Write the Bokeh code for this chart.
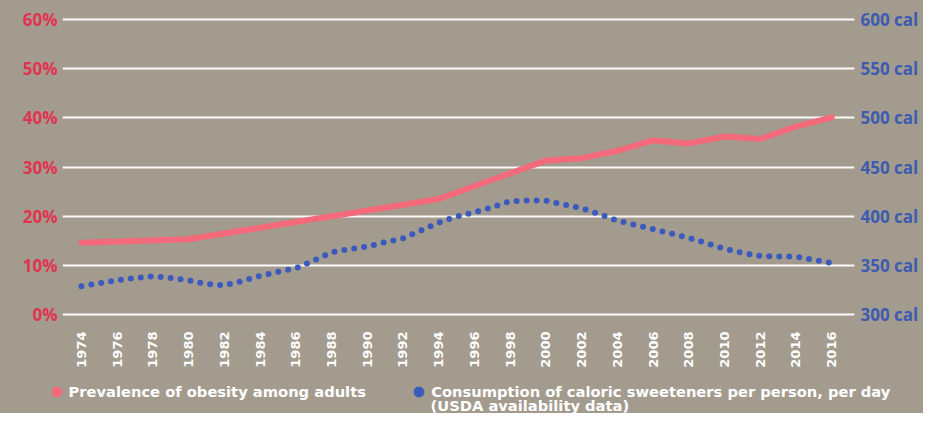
from math import pi
from bokeh.plotting import figure
from bokeh.layouts import column
from bokeh.models import (Range1d, LinearAxis, FixedTicker, PrintfTickFormatter,
                          Legend, LegendItem, Label)
from bokeh.embed import file_html
from bokeh.resources import INLINE

# ---- data ----
obesity_years = [1974, 1980, 1994, 2000, 2002, 2004, 2006, 2008, 2010, 2012, 2014, 2016]
obesity_pct = [14.6, 15.3, 23.5, 31.3, 31.8, 33.3, 35.4, 34.8, 36.2, 35.7, 38.2, 40.1]

sweet_years = list(range(1974, 2017))
sweet_cal = [328.8, 331.7, 335.0, 337.2, 338.9, 337.2, 334.6, 331.1, 329.5, 334.0,
             339.3, 343.3, 347.0, 354.9, 363.3, 366.5, 369.2, 373.5, 377.4, 385.4,
             393.5, 399.6, 404.0, 409.2, 415.3, 415.9, 415.9, 411.8, 408.0, 402.0,
             395.5, 391.2, 387.0, 382.3, 378.0, 372.4, 366.9, 362.6, 359.5, 358.9,
             358.9, 355.6, 352.5]

x_ticks = list(range(1974, 2017, 2))
pct_ticks = [0, 10, 20, 30, 40, 50, 60]
cal_ticks = [300, 350, 400, 450, 500, 550, 600]

label_obesity = "Prevalence of obesity among adults"
label_sweet_1 = "Consumption of caloric sweeteners per person, per day"
label_sweet_2 = "(USDA availability data)"

# ---- style ----
BG = "#a49b8f"
RED_TXT = "#e0344f"
BLUE_TXT = "#3c5cb0"
RED_LINE = "#f46a7a"
BLUE_DOT = "#3a5bbd"
LEG_FONT_SIZE = "14.7px"

W = 923
H_CHART = 380
H_LEG = 33


def no_frame_align(fig):
    try:
        fig.frame_align = False
    except Exception:
        pass


p = figure(width=W, height=H_CHART, output_backend="svg", toolbar_location=None,
           x_range=Range1d(1972.94, 2017.28), y_range=Range1d(-0.41, 60.41),
           min_border_left=62, min_border_right=W - 854, min_border_top=17,
           min_border_bottom=H_CHART - 316, background_fill_color=BG,
           border_fill_color=BG, outline_line_color=None,
           styles={"background-color": BG})
p.extra_y_ranges = {"cal": Range1d(297.97, 602.03)}
no_frame_align(p)

# grid
p.xgrid.visible = False
p.ygrid.ticker = FixedTicker(ticks=pct_ticks)
p.ygrid.grid_line_color = "white"
p.ygrid.grid_line_width = 2
p.ygrid.grid_line_alpha = 0.95

# axes
xa = p.xaxis[0]
xa.ticker = FixedTicker(ticks=x_ticks)
xa.major_label_orientation = pi / 2
xa.major_label_text_color = "white"
xa.major_label_text_font = "DejaVu Sans"
xa.major_label_text_font_style = "bold"
xa.major_label_text_font_size = "13px"
xa.major_label_standoff = 15

ya = p.yaxis[0]
ya.ticker = FixedTicker(ticks=pct_ticks)
ya.formatter = PrintfTickFormatter(format="%d%%")
ya.major_label_text_color = RED_TXT
ya.major_label_text_font = "Open Sans"
ya.major_label_text_font_style = "bold"
ya.major_label_text_font_size = "17px"
ya.major_label_standoff = 5

ra = LinearAxis(y_range_name="cal", ticker=FixedTicker(ticks=cal_ticks),
                formatter=PrintfTickFormatter(format="%d cal"))
ra.major_label_text_color = BLUE_TXT
ra.major_label_text_font = "Open Sans"
ra.major_label_text_font_style = "bold"
ra.major_label_text_font_size = "17px"
ra.major_label_standoff = 6
p.add_layout(ra, "right")

for ax in (xa, ya, ra):
    ax.axis_line_color = None
    ax.major_tick_line_color = None
    ax.minor_tick_line_color = None
    ax.major_tick_out = 0
    ax.major_tick_in = 0
    ax.minor_tick_out = 0
    ax.minor_tick_in = 0

# series
p.line(sweet_years, sweet_cal, y_range_name="cal", line_color=BLUE_DOT,
       line_width=6, line_dash="0 10", line_cap="round")
p.line(obesity_years, obesity_pct, line_color=RED_LINE, line_width=6,
       line_cap="round", line_join="round")

# ---- legend strip ----
lf = figure(width=W, height=H_LEG, output_backend="svg", toolbar_location=None,
            x_range=Range1d(0, 1), y_range=Range1d(0, 1),
            min_border_left=0, min_border_right=0, min_border_top=0,
            min_border_bottom=0, background_fill_color=BG, border_fill_color=BG,
            outline_line_color=None, styles={"background-color": BG})
no_frame_align(lf)
lf.xaxis.visible = False
lf.yaxis.visible = False
lf.grid.visible = False

# legend-only renderers: the series' points lie outside this strip's ranges,
# so only their legend markers are drawn
r_red = lf.scatter(obesity_years, obesity_pct, marker="circle", size=10,
                   color=RED_LINE)
r_blue = lf.scatter(sweet_years, sweet_cal, marker="circle", size=10,
                    color=BLUE_DOT)


def make_legend(label, rend, loc):
    return Legend(items=[LegendItem(label=label, renderers=[rend], index=0)],
                  location=loc, glyph_width=25, glyph_height=25, label_standoff=-1,
                  padding=0, margin=0, spacing=0,
                  background_fill_alpha=0, border_line_color=None,
                  label_text_color="white", label_text_font="DejaVu Sans",
                  label_text_font_style="bold", label_text_font_size=LEG_FONT_SIZE)


lf.add_layout(make_legend(label_obesity, r_red, (43.5, 9.5)))
lf.add_layout(make_legend(label_sweet_1, r_blue, (406.2, 9.5)))
lf.add_layout(Label(x=430, y=8.5, x_units="screen", y_units="screen",
                    text=label_sweet_2, text_color="white", text_font="DejaVu Sans",
                    text_font_style="bold", text_font_size=LEG_FONT_SIZE,
                    text_baseline="middle"))

layout = column(p, lf, spacing=0, styles={"background-color": BG})
open("out.html", "w").write(file_html(layout, INLINE))
